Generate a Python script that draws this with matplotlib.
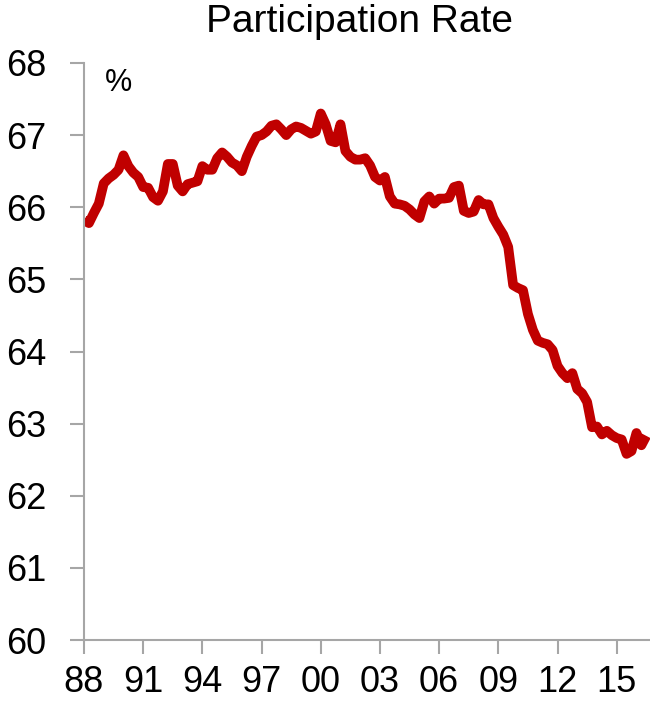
import matplotlib
matplotlib.use("Agg")
import matplotlib.pyplot as plt
import numpy as np

title = "Participation Rate"
unit_label = "%"
start_year = 1988
periods_per_year = 4
rate = [
    65.82, 65.78, 65.92, 66.05, 66.33, 66.40, 66.45, 66.52, 66.72, 66.57,
    66.48, 66.42, 66.28, 66.27, 66.14, 66.09, 66.22, 66.60, 66.60, 66.30,
    66.22, 66.32, 66.34, 66.36, 66.57, 66.52, 66.52, 66.68, 66.76, 66.70,
    66.62, 66.58, 66.50, 66.70, 66.85, 66.98, 67.00, 67.05, 67.13, 67.15,
    67.08, 67.00, 67.08, 67.12, 67.10, 67.06, 67.02, 67.05, 67.30, 67.15,
    66.92, 66.90, 67.15, 66.78, 66.70, 66.66, 66.66, 66.68, 66.58, 66.42,
    66.37, 66.42, 66.15, 66.05, 66.04, 66.02, 65.97, 65.90, 65.85, 66.08,
    66.15, 66.05, 66.12, 66.12, 66.13, 66.28, 66.30, 65.95, 65.92, 65.94,
    66.10, 66.04, 66.04, 65.85, 65.73, 65.62, 65.45, 64.92, 64.88, 64.85,
    64.52, 64.30, 64.15, 64.12, 64.10, 64.02, 63.80, 63.70, 63.63, 63.70,
    63.48, 63.42, 63.30, 62.95, 62.96, 62.85, 62.90, 62.84, 62.80, 62.78,
    62.58, 62.62, 62.87, 62.70, 62.83,
]
xtick_years = [1988, 1991, 1994, 1997, 2000, 2003, 2006, 2009, 2012, 2015]
xtick_labels = ["88", "91", "94", "97", "00", "03", "06", "09", "12", "15"]
yticks = [60, 61, 62, 63, 64, 65, 66, 67, 68]

plt.rcParams['font.family'] = ['Liberation Sans', 'DejaVu Sans']

x = start_year + np.arange(len(rate)) / periods_per_year

fig = plt.figure(figsize=(6.5, 7.02), dpi=100)
ax = fig.add_axes([84/650, 1 - 640/702, 1 - 84/650, (640 - 63)/702])
ax.plot(x, rate, color="#C00000", lw=7, solid_joinstyle="round",
        solid_capstyle="butt", clip_on=True)

ax.set_xlim(start_year, start_year + 566/19.73)
ax.set_ylim(60, 68)
ax.set_yticks(yticks)
ax.set_yticklabels([str(v) for v in yticks])
ax.set_xticks(xtick_years)
ax.set_xticklabels(xtick_labels)

for s in ["top", "right"]:
    ax.spines[s].set_visible(False)
for s in ["left", "bottom"]:
    ax.spines[s].set_color("#A6A6A6")
    ax.spines[s].set_linewidth(1.5)

ax.tick_params(axis="y", direction="out", length=10, width=1.5,
               color="#A6A6A6", pad=17, labelsize=26, labelcolor="black")
ax.tick_params(axis="x", direction="out", length=10, width=1.5,
               color="#A6A6A6", pad=8, labelsize=26, labelcolor="black")

ax.text(0.036, 0.965, unit_label, transform=ax.transAxes, fontsize=22,
        ha="left", va="center", color="black")
fig.text(360/650, 1 - 22/702, title, fontsize=28, ha="center", va="center",
         color="black")

fig.savefig("out.png", dpi=100)
